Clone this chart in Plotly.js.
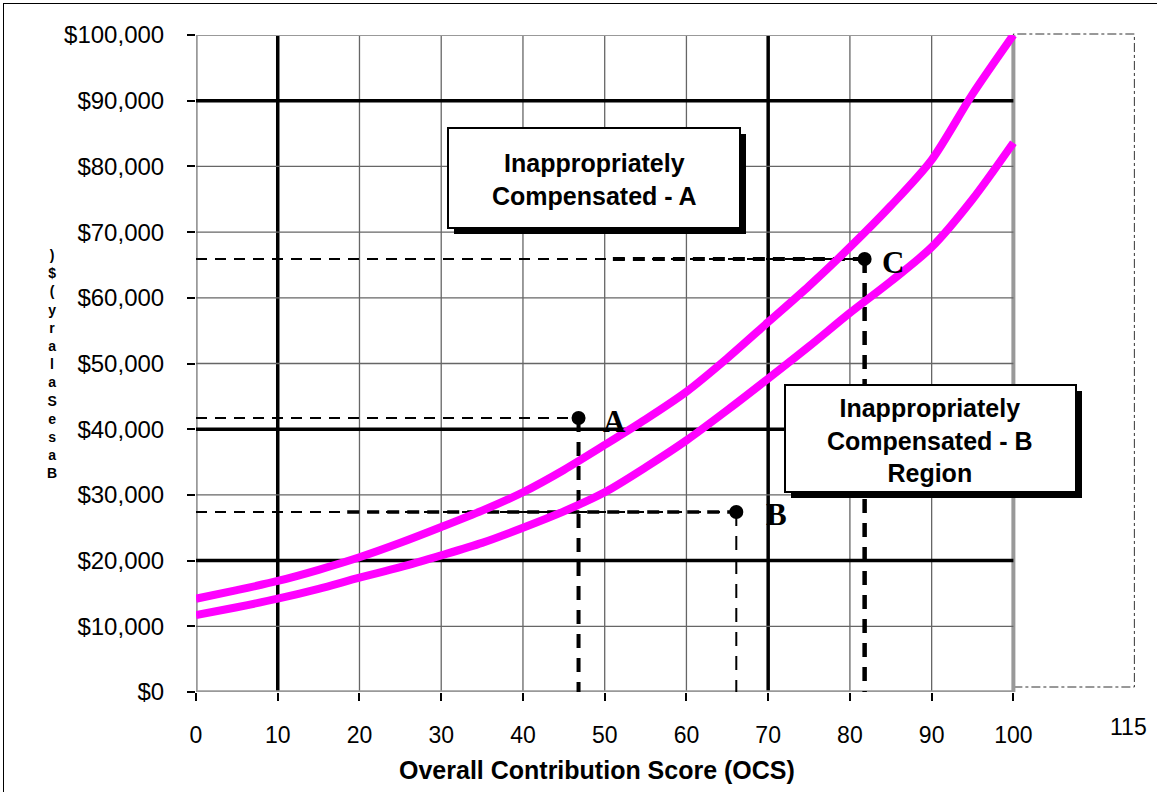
<!DOCTYPE html>
<html><head><meta charset="utf-8">
<script src="https://cdn.plot.ly/plotly-3.0.1.min.js"></script>
<style>
html,body{margin:0;padding:0;background:#fff;overflow:hidden}
#chart{position:absolute;left:0;top:0;width:1157px;height:792px}
#frame{position:absolute;left:3px;top:3px;width:1160px;height:800px;border-left:1.5px solid #000;border-top:1.5px solid #000;pointer-events:none}
</style>
</head><body>
<div id="chart"></div><div id="frame"></div>
<script>
// ---- data ----
const ocs = [0, 5, 10, 15, 20, 25, 30, 35, 40, 45, 50, 55, 60, 65, 70, 75, 80, 85, 90, 95, 100];
const upperSalary = [14200, 15500, 16900, 18600, 20500, 22700, 25100, 27600, 30400, 33800, 37600, 41500, 45700, 50800, 56300, 61800, 67700, 74000, 81000, 91000, 100000];
const lowerSalary = [11700, 12900, 14200, 15700, 17400, 19000, 20800, 22700, 25000, 27500, 30400, 34200, 38300, 42900, 47700, 52600, 57700, 62500, 67700, 75000, 83600];

const pointLabels = ['A', 'B', 'C'];
const pointX = [46.8, 66.1, 81.8];
const pointY = [41700, 27400, 65900];

const xTickVals = [0, 10, 20, 30, 40, 50, 60, 70, 80, 90, 100];
const xTickText = ['0', '10', '20', '30', '40', '50', '60', '70', '80', '90', '100'];
const xExtraLabel = '115';
const yTickVals = [0, 10000, 20000, 30000, 40000, 50000, 60000, 70000, 80000, 90000, 100000];
const yTickText = ['$0', '$10,000', '$20,000', '$30,000', '$40,000', '$50,000', '$60,000', '$70,000', '$80,000', '$90,000', '$100,000'];

const xTitle = 'Overall Contribution Score (OCS)';
const yTitle = 'Base Salary ($)';
const boxAText = 'Inappropriately<br>Compensated - A';
const boxBText = 'Inappropriately<br>Compensated - B<br>Region';

(function () {
// ---- styling ----
const W = 1157, H = 792, ML = 196, MR = 21, MT = 35, MB = 100;
const PW = W - ML - MR, PH = H - MT - MB;
const px2x = p => (p - ML) / PW;          // pixel -> paper x
const py2y = p => (H - MB - p) / PH;       // pixel -> paper y
const SANS = 'Liberation Sans, Arial, sans-serif';
const SERIF = 'Liberation Serif, Times New Roman, serif';
const MAGENTA = '#FF00FF';

const hWThin = [2, 2, 2];
const hThickFrom = [999, 18.5, 51];
const hWThick = [3.5, 3.5, 4];
const vW = [4, 2, 4.5];
const labelShift = [24, 30, 17];

const traces = [];
for (let i = 0; i < pointX.length; i++) {
  traces.push({x: [0, pointX[i]], y: [pointY[i], pointY[i]], mode: 'lines',
    line: {color: '#000', width: hWThin[i], dash: '11px,8px'}, hoverinfo: 'skip'});
  if (hThickFrom[i] < pointX[i]) {
    traces.push({x: [hThickFrom[i], pointX[i]], y: [pointY[i], pointY[i]], mode: 'lines',
      line: {color: '#000', width: hWThick[i], dash: '12px,8px'}, hoverinfo: 'skip'});
  }
  traces.push({x: [pointX[i], pointX[i]], y: [pointY[i], 0], mode: 'lines',
    line: {color: '#000', width: vW[i], dash: '14px,10px'}, hoverinfo: 'skip'});
}
traces.push({x: ocs, y: upperSalary, mode: 'lines', line: {color: MAGENTA, width: 8, shape: 'spline', smoothing: 0.8}});
traces.push({x: ocs, y: lowerSalary, mode: 'lines', line: {color: MAGENTA, width: 8, shape: 'spline', smoothing: 0.8}});
traces.push({x: pointX, y: pointY, mode: 'markers', marker: {color: '#000', size: 14, symbol: 'circle'}});

const shapes = [];
const thickV = [10, 70], thickH = [20000, 40000, 90000];
xTickVals.forEach(v => {
  let c = '#666', w = 1.3;
  if (thickV.includes(v)) { c = '#000'; w = 3.5; }
  if (v === 0) { c = '#999'; w = 3.5; }
  if (v === 100) { c = '#999'; w = 4; }
  shapes.push({type: 'line', xref: 'x', yref: 'y', x0: v, x1: v, y0: 0, y1: 100000, line: {color: c, width: w}, layer: 'below'});
});
yTickVals.forEach(v => {
  let c = '#666', w = 1.3;
  if (thickH.includes(v)) { c = '#000'; w = 3.5; }
  if (v === 0) { c = '#999'; w = 3.5; }
  if (v === 100000) { c = '#999'; w = 2; }
  shapes.push({type: 'line', xref: 'x', yref: 'y', x0: 0, x1: 100, y0: v, y1: v, line: {color: c, width: w}, layer: 'below'});
});
shapes.push({type: 'rect', xref: 'x', yref: 'paper', x0: 100, x1: 114.8, y0: py2y(687), y1: py2y(34),
  line: {color: '#333', width: 1, dash: 'dashdot'}, layer: 'below'});
function box(l, t, r, b) {
  shapes.push({type: 'rect', xref: 'paper', yref: 'paper', x0: px2x(l + 6), x1: px2x(r + 6), y0: py2y(b + 6), y1: py2y(t + 6),
    fillcolor: '#000', line: {width: 0}, layer: 'above'});
  shapes.push({type: 'rect', xref: 'paper', yref: 'paper', x0: px2x(l), x1: px2x(r), y0: py2y(b), y1: py2y(t),
    fillcolor: '#fff', line: {color: '#000', width: 2}, layer: 'above'});
}
box(448, 128, 740, 228);
box(785, 385, 1076, 492);

const annotations = [];
annotations.push({xref: 'paper', yref: 'paper', x: px2x(594), y: py2y(179), text: boxAText, showarrow: false,
  font: {family: SANS, size: 25, color: '#000', weight: 'bold'}, xanchor: 'center', yanchor: 'middle'});
annotations.push({xref: 'paper', yref: 'paper', x: px2x(930), y: py2y(440), text: boxBText, showarrow: false,
  font: {family: SANS, size: 25, color: '#000', weight: 'bold'}, xanchor: 'center', yanchor: 'middle'});
for (let i = 0; i < pointX.length; i++) {
  annotations.push({xref: 'x', yref: 'y', x: pointX[i], y: pointY[i], text: '<b>' + pointLabels[i] + '</b>', showarrow: false,
    xanchor: 'left', yanchor: 'middle', xshift: labelShift[i] - 2, yshift: -3,
    font: {family: SERIF, size: 31, color: '#000'}});
}
annotations.push({xref: 'paper', yref: 'paper', x: px2x(1128), y: py2y(727), text: xExtraLabel, showarrow: false,
  xanchor: 'center', yanchor: 'middle', font: {family: SANS, size: 23, color: '#000'}});
annotations.push({xref: 'paper', yref: 'paper', x: px2x(597), y: py2y(770), text: '<b>' + xTitle + '</b>', showarrow: false,
  xanchor: 'center', yanchor: 'middle', font: {family: SANS, size: 25, color: '#000'}});

// stacked y title (characters reversed, one per line), as in the reference
const vis = yTitle.split('').reverse().filter(c => c !== ' ');
annotations.push({xref: 'paper', yref: 'paper', x: px2x(52), y: py2y(364), yanchor: 'middle', xanchor: 'center',
  text: vis.map(c => '<b>' + c + '</b>').join('<br>'), showarrow: false, font: {family: SANS, size: 14, color: '#000'}});

const layout = {
  width: W, height: H, margin: {l: ML, r: MR, t: MT, b: MB},
  paper_bgcolor: 'rgba(0,0,0,0)', plot_bgcolor: '#fff', showlegend: false,
  xaxis: {range: [0, 115], tickvals: xTickVals, ticktext: xTickText, ticks: 'outside', ticklen: 8, tickwidth: 2, tickcolor: '#000',
    showgrid: false, zeroline: false, showline: false, ticklabelstandoff: 14,
    tickfont: {family: SANS, size: 23, color: '#000'}},
  yaxis: {range: [0, 100000], tickvals: yTickVals, ticktext: yTickText, ticks: 'outside', ticklen: 8, tickwidth: 2, tickcolor: '#000',
    showgrid: false, zeroline: false, showline: false, ticklabelstandoff: 18,
    tickfont: {family: SANS, size: 24, color: '#000'}},
  shapes: shapes, annotations: annotations
};
Plotly.newPlot('chart', traces, layout, {displayModeBar: false, staticPlot: true});
})();
</script>
</body></html>
